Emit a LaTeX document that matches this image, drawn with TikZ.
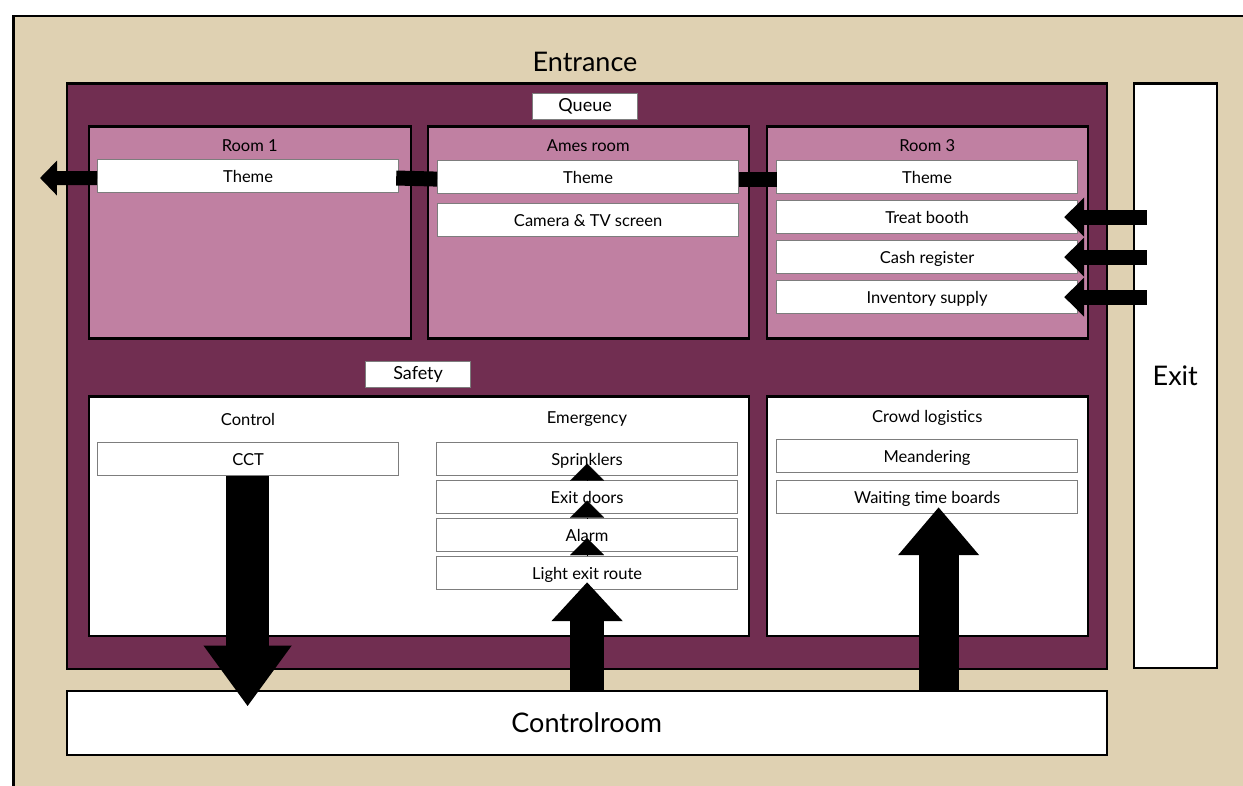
\documentclass[tikz,border=0pt]{standalone}
\usepackage{fontspec}
\setmainfont{Lato}
\usetikzlibrary{positioning,arrows.meta}
\definecolor{sand}{RGB}{223,209,178}
\definecolor{plum}{RGB}{113,46,81}
\definecolor{mauve}{RGB}{192,128,162}
\definecolor{rim}{RGB}{125,125,125}
\tikzset{
  zone/.style={draw=black, line width=2.5pt, anchor=north west, inner sep=0pt},
  item/.style={draw=rim, line width=1.2pt, fill=white, anchor=north west,
    minimum width=301pt, minimum height=33pt, inner sep=0pt,
    text height=12pt, text depth=-4pt,
    font=\fontsize{16.5}{19}\selectfont},
  tag/.style={draw=rim, line width=1.2pt, fill=white, anchor=north west,
    minimum width=105pt, minimum height=26pt, inner sep=0pt,
    font=\fontsize{18}{21}\selectfont},
  title/.style={font=\fontsize{16.5}{19}\selectfont},
  big/.style={font=\fontsize{27}{31}\selectfont},
  link/.style={line width=15pt},
  thin arrow/.style={line width=15pt, -{Triangle[length=20pt,width=38pt]}},
  stephead/.style={line width=0.1pt, -{Triangle[length=17pt,width=34pt]}}
}
\begin{document}
\begin{tikzpicture}[x=1pt, y=-1pt]
\path[use as bounding box, clip] (0,0) rectangle (1243,786);
\fill[white] (0,0) rectangle (1243,786);
%\draw[help lines] (0,0) grid[step=50] (1243,786);

% site
\node[zone, fill=sand, minimum width=1300pt, minimum height=800pt] (site) at (12,15) {};
\node[big] (entrance) at (585,62) {Entrance};
\node[zone, fill=plum, minimum width=1040pt, minimum height=585pt] (hall) at (65.5,82.5) {};
\node[zone, fill=white, minimum width=83pt, minimum height=584pt] (exit) at (1132.5,82.5) {};
\node[big] at (exit.center) {Exit};
\node[zone, fill=white, minimum width=1040pt, minimum height=64pt] (ctrl) at (65.5,689.5) {};
\node[big] at (ctrl.center) {Controlroom};

% rooms
\node[tag] (queue) at (532,93) {Queue};
\node[zone, fill=mauve, minimum width=322pt, minimum height=212pt] (room1) at (87.5,125.5) {};
\node[zone, fill=mauve, minimum width=321pt, minimum height=212pt] (ames) at (426.5,125.5) {};
\node[zone, fill=mauve, minimum width=321pt, minimum height=212pt] (room3) at (765.5,125.5) {};
\node[title] at ([yshift=-20pt]room1.north) {Room 1};
\node[title] at ([yshift=-20pt]ames.north) {Ames room};
\node[title] at ([yshift=-20pt]room3.north) {Room 3};
\node[item] (theme1) at (97,159) {Theme};
\node[item] (theme2) at (437,160) {Theme};
\node[item] (theme3) at (776,160) {Theme};
\node[item] (camera) at (437,203) {Camera \& TV screen};
\node[item] (treat) at (776,200) {Treat booth};
\node[item] (cash) at (776,240) {Cash register};
\node[item] (stock) at (776,280) {Inventory supply};

% safety
\node[tag] (safety) at (365,361) {Safety};
\node[zone, fill=white, minimum width=660pt, minimum height=239pt] (safe) at (87.5,395.5) {};
\node[zone, fill=white, minimum width=321pt, minimum height=239pt] (crowd) at (765.5,395.5) {};
\node[title] at (248,419) {Control};
\node[title] at (587,419) {Emergency};
\node[title] at ([yshift=-22pt]crowd.north) {Crowd logistics};
\node[item] (cct) at (97,442) {CCT};
\node[item] (sprink) at (436,442) {Sprinklers};
\node[item] (doors) at (436,480) {Exit doors};
\node[item] (alarm) at (436,518) {Alarm};
\node[item] (light) at (436,556) {Light exit route};
\node[item] (meander) at (776,439) {Meandering};
\node[item] (wait) at (776,480) {Waiting time boards};

% connectors
\coordinate (out) at (40,178);
\draw[line width=14pt, -{Triangle[length=17pt,width=34pt]}] ([yshift=-2pt]theme1.west) -- (out);
\draw[link, shorten <=-3pt] ([yshift=-2pt]theme1.east) -- ([yshift=-2pt]theme2.west);
\draw[link, shorten >=-1pt] ([yshift=-2pt]theme2.east) -- ([yshift=-2pt]theme3.west);
\foreach \t in {treat, cash, stock}
  \draw[thin arrow, shorten <=-14pt, shorten >=-14pt] (\t -| exit.west) -- (\t.east);
\draw[line width=43pt, -{Triangle[length=61pt,width=84pt]}, shorten >=-17pt]
  ([xshift=-0.5pt]cct.south) -- ([xshift=-0.5pt]cct.south |- ctrl.north);
\draw[line width=34pt, -{Triangle[length=39pt,width=69pt]}, shorten >=-8pt]
  (light.south |- ctrl.north) -- (light.south);
\draw[stephead] (light.north) -- ([yshift=-3pt]alarm.center);
\draw[stephead] (alarm.north) -- ([yshift=-3.5pt]doors.center);
\draw[stephead] (doors.north) -- ([yshift=-4.5pt]sprink.center);
\draw[line width=40pt, -{Triangle[length=48pt,width=78pt]}, shorten >=-7pt]
  ([xshift=11.5pt]wait.south |- ctrl.north) -- ([xshift=11.5pt]wait.south);
\end{tikzpicture}
\end{document}
